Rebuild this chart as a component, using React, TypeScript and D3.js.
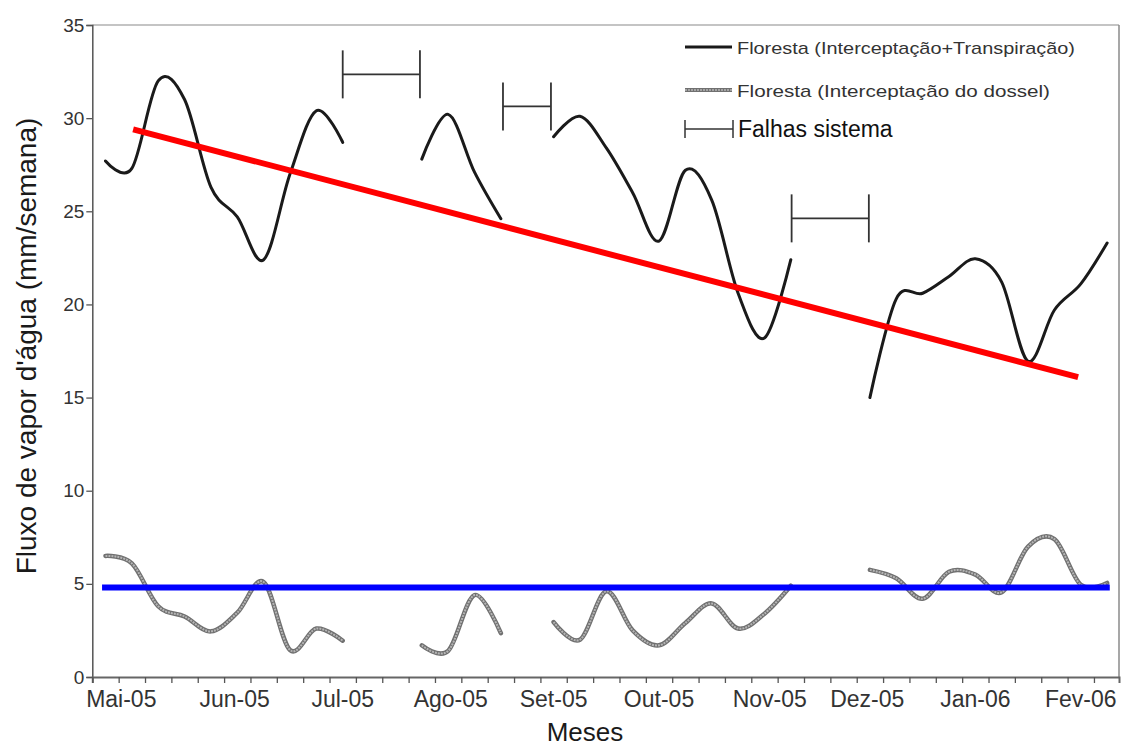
import { useEffect, useRef } from 'react';
import * as d3 from 'd3';

// semanas (centro de cada semana, a partir de Mai-05)
const weekCenters = [
  0.5, 1.5, 2.5, 3.5, 4.5, 5.5, 6.5, 7.5, 8.5, 9.5,
  10.5, 11.5, 12.5, 13.5, 14.5, 15.5, 16.5, 17.5, 18.5, 19.5,
  20.5, 21.5, 22.5, 23.5, 24.5, 25.5, 26.5, 27.5, 28.5, 29.5,
  30.5, 31.5, 32.5, 33.5, 34.5, 35.5, 36.5, 37.5, 38.5,
];

// Floresta (Interceptação+Transpiração), mm/semana
const totalFlux = [
  27.7, 27.3, 32.0, 31.0, 26.3, 24.7, 22.4, 27.0, 30.4, 28.7,
  null, null, 27.8, 30.2, 27.1, 24.6, null, 29.0, 30.1, 28.4,
  26.0, 23.4, 27.2, 25.6, 20.6, 18.2, 22.4, null, null, 15.0,
  20.3, 20.6, 21.5, 22.45, 21.2, 16.95, 19.7, 21.1, 23.3,
];

// Floresta (Interceptação do dossel), mm/semana
const canopyFlux = [
  6.5, 6.1, 3.8, 3.25, 2.45, 3.45, 5.1, 1.45, 2.6, 1.95,
  null, null, 1.7, 1.4, 4.4, 2.35, null, 2.95, 2.0, 4.6,
  2.5, 1.7, 2.9, 3.95, 2.6, 3.4, 4.9, null, null, 5.75,
  5.3, 4.2, 5.65, 5.5, 4.55, 7.0, 7.4, 4.95, 5.05,
];

// tendência (vermelho) e média (azul)
const trendWeeks = [1.55, 37.4];
const trendValues = [29.4, 16.1];
const meanWeeks = [0.37, 38.6];
const meanValues = [4.8, 4.8];

// falhas do sistema
const failStart = [9.5, 15.58, 26.53];
const failEnd = [12.43, 17.4, 29.46];
const failLevel = [32.35, 30.63, 24.62];

const monthLabels = ['Mai-05', 'Jun-05', 'Jul-05', 'Ago-05', 'Set-05', 'Out-05', 'Nov-05', 'Dez-05', 'Jan-06', 'Fev-06'];
const monthLabelWeeks = [1.1, 5.4, 9.5, 13.6, 17.5, 21.5, 25.7, 29.4, 33.5, 37.5];
const weekTicks = d3.range(0, 39);
const yTicks = [0, 5, 10, 15, 20, 25, 30, 35];

const legendLabels = ['Floresta (Interceptação+Transpiração)', 'Floresta (Interceptação do dossel)', 'Falhas sistema'];

const W = 1122;
const H = 747;
const FONT = "'Liberation Sans', Arial, Helvetica, sans-serif";

export default function App() {
  const ref = useRef<SVGSVGElement>(null);

  useEffect(() => {
    const svg = d3.select(ref.current);
    svg.selectAll('*').remove();

    const x = d3.scaleLinear().domain([0, 38.95]).range([92.3, 1119]);
    const y = d3.scaleLinear().domain([0, 35]).range([677, 25]);

    svg.append('rect').attr('width', W).attr('height', H).attr('fill', '#fff');

    // moldura
    svg.append('line').attr('x1', x(0)).attr('x2', x(38.95)).attr('y1', y(35)).attr('y2', y(35))
      .attr('stroke', '#8a8a8a').attr('stroke-width', 1.2);
    svg.append('line').attr('x1', x(38.95)).attr('x2', x(38.95)).attr('y1', y(35)).attr('y2', y(0))
      .attr('stroke', '#8a8a8a').attr('stroke-width', 1.5);

    // eixo Y
    const yAxis = svg.append('g').attr('transform', `translate(${x(0)},0)`)
      .call(d3.axisLeft(y).tickValues(yTicks).tickSize(6).tickPadding(3));
    yAxis.select('.domain').attr('stroke', '#555').attr('stroke-width', 1.5);
    yAxis.selectAll('.tick line').attr('stroke', '#555').attr('stroke-width', 1.3);
    yAxis.selectAll('.tick text').attr('font-family', FONT).attr('font-size', 19)
      .attr('fill', '#333').attr('x', -8);

    // eixo X (semanas)
    const xAxis = svg.append('g').attr('transform', `translate(0,${y(0)})`)
      .call(d3.axisBottom(x).tickValues(weekTicks).tickSize(6).tickFormat(() => ''));
    xAxis.select('.domain').attr('stroke', '#666').attr('stroke-width', 2);
    xAxis.selectAll('.tick line').attr('stroke', '#555').attr('stroke-width', 1.3);

    svg.append('g').selectAll('text').data(monthLabels).enter().append('text')
      .attr('x', (d, i) => x(monthLabelWeeks[i]))
      .attr('y', 707)
      .attr('text-anchor', 'middle')
      .attr('font-family', FONT).attr('font-size', 23).attr('fill', '#333')
      .text(d => d);

    // títulos
    svg.append('text').attr('x', 585).attr('y', 741).attr('text-anchor', 'middle')
      .attr('font-family', FONT).attr('font-size', 26).attr('fill', '#1a1a1a').text('Meses');
    svg.append('text').attr('transform', 'translate(36,346) rotate(-90)').attr('text-anchor', 'middle')
      .attr('font-family', FONT).attr('font-size', 28).attr('fill', '#1a1a1a')
      .text("Fluxo de vapor d'água (mm/semana)");

    const seriesLine = (vals: (number | null)[]) => d3.line<number | null>()
      .defined(d => d !== null)
      .x((d, i) => x(weekCenters[i]))
      .y(d => y(d as number))
      .curve(d3.curveCardinal.tension(0))(vals);

    // série cinza
    svg.append('path').attr('d', seriesLine(canopyFlux)).attr('fill', 'none')
      .attr('stroke', '#707070').attr('stroke-width', 4.5).attr('stroke-linecap', 'round');
    svg.append('path').attr('d', seriesLine(canopyFlux)).attr('fill', 'none')
      .attr('stroke', '#b5b5b5').attr('stroke-width', 2).attr('stroke-dasharray', '2 1');

    // série preta
    svg.append('path').attr('d', seriesLine(totalFlux)).attr('fill', 'none')
      .attr('stroke', '#1a1a1a').attr('stroke-width', 3).attr('stroke-linecap', 'round');

    // tendência e média
    svg.append('line')
      .attr('x1', x(trendWeeks[0])).attr('y1', y(trendValues[0]))
      .attr('x2', x(trendWeeks[1])).attr('y2', y(trendValues[1]))
      .attr('stroke', '#ff0000').attr('stroke-width', 6);
    svg.append('line')
      .attr('x1', x(meanWeeks[0])).attr('y1', y(meanValues[0]))
      .attr('x2', x(meanWeeks[1])).attr('y2', y(meanValues[1]))
      .attr('stroke', '#0000ff').attr('stroke-width', 6);

    // barras de falhas
    const fails = svg.append('g').attr('stroke', '#333').attr('stroke-width', 1.8);
    failStart.forEach((s, i) => {
      const x1 = x(s), x2 = x(failEnd[i]), yy = y(failLevel[i]);
      fails.append('line').attr('x1', x1).attr('x2', x2).attr('y1', yy).attr('y2', yy);
      fails.append('line').attr('x1', x1).attr('x2', x1).attr('y1', yy - 24).attr('y2', yy + 24);
      fails.append('line').attr('x1', x2).attr('x2', x2).attr('y1', yy - 24).attr('y2', yy + 24);
    });

    // legenda
    const lg = svg.append('g');
    lg.append('line').attr('x1', 685).attr('x2', 732).attr('y1', 47).attr('y2', 47)
      .attr('stroke', '#1a1a1a').attr('stroke-width', 3);
    lg.append('text').attr('x', 737).attr('y', 53.5).attr('font-family', FONT).attr('font-size', 17)
      .attr('fill', '#333').attr('textLength', 338).attr('lengthAdjust', 'spacingAndGlyphs').text(legendLabels[0]);
    lg.append('line').attr('x1', 685).attr('x2', 732).attr('y1', 90).attr('y2', 90)
      .attr('stroke', '#707070').attr('stroke-width', 4);
    lg.append('line').attr('x1', 685).attr('x2', 732).attr('y1', 90).attr('y2', 90)
      .attr('stroke', '#b5b5b5').attr('stroke-width', 1.6).attr('stroke-dasharray', '2 1');
    lg.append('text').attr('x', 737).attr('y', 96.5).attr('font-family', FONT).attr('font-size', 17)
      .attr('fill', '#333').attr('textLength', 313).attr('lengthAdjust', 'spacingAndGlyphs').text(legendLabels[1]);
    const lf = lg.append('g').attr('stroke', '#333').attr('stroke-width', 1.5);
    lf.append('line').attr('x1', 685).attr('x2', 733).attr('y1', 129).attr('y2', 129);
    lf.append('line').attr('x1', 685).attr('x2', 685).attr('y1', 120).attr('y2', 138);
    lf.append('line').attr('x1', 733).attr('x2', 733).attr('y1', 120).attr('y2', 138);
    lg.append('text').attr('x', 738).attr('y', 137).attr('font-family', FONT).attr('font-size', 23)
      .attr('fill', '#111').text(legendLabels[2]);
  }, []);

  return (
    <div style={{ position: 'absolute', left: 0, top: 0 }}>
      <svg ref={ref} width={W} height={H} style={{ display: 'block' }}></svg>
    </div>
  );
}
